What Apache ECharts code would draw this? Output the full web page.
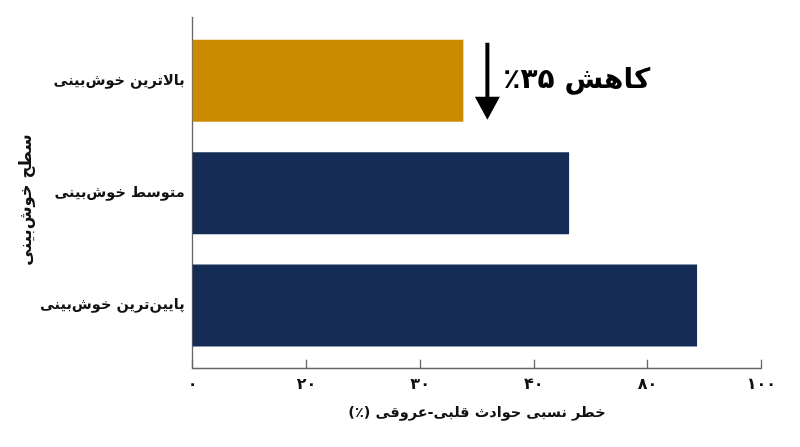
<!DOCTYPE html>
<html>
<head>
<meta charset="utf-8">
<script src="https://cdn.jsdelivr.net/npm/echarts@6/dist/echarts.min.js"></script>
<style>
html,body{margin:0;padding:0;background:#fff;}
#c{width:800px;height:447px;}
</style>
</head>
<body>
<div id="c" dir="rtl"></div>
<script>
const categories = ['بالاترین خوش‌بینی', 'متوسط خوش‌بینی', 'پایین‌ترین خوش‌بینی'];
const riskValues = [47.6, 66.2, 88.7];
const barColors = ['#cc8a00', '#142c56', '#142c56'];
const tickLabels = ['۰', '۲۰', '۳۰', '۴۰', '۸۰', '۱۰۰'];
const xTitle = 'خطر نسبی حوادث قلبی-عروقی (٪)';
const yTitle = 'سطح خوش‌بینی';
const annotationText = 'کاهش ۳۵٪';
const annotationX = [52];

const FONT = "'DejaVu Sans', sans-serif";
const chart = echarts.init(document.getElementById('c'), null, {renderer: 'canvas'});

const L = 192.7, R = 38.7;
const option = {
  backgroundColor: '#ffffff',
  animation: false,
  grid: [
    {left: L, right: R, top: 17.3, bottom: 78.3, outerBoundsMode: 'none', containLabel: false},
    {left: L, right: R, top: 24.6, bottom: 85.3, outerBoundsMode: 'none', containLabel: false}
  ],
  xAxis: [
    {
      type: 'value', gridIndex: 0, min: 0, max: 100, interval: 20,
      axisLine: {show: true, lineStyle: {color: '#666', width: 1.3}},
      axisTick: {show: true, inside: true, length: 9, lineStyle: {color: '#666', width: 1.3}},
      splitLine: {show: false},
      axisLabel: {
        margin: 8, color: '#111', fontSize: 16, fontWeight: 'bold', fontFamily: FONT,
        formatter: v => tickLabels[Math.round(v / 20)]
      },
      name: xTitle, nameLocation: 'middle', nameGap: 37,
      nameTextStyle: {color: '#111', fontSize: 14.5, fontWeight: 'bold', fontFamily: FONT}
    },
    {
      type: 'value', gridIndex: 1, min: 0, max: 100, interval: 20, show: false
    }
  ],
  yAxis: [
    {
      type: 'value', gridIndex: 0, min: 0, max: 1,
      axisLine: {show: true, lineStyle: {color: '#666', width: 1.3}},
      axisTick: {show: false}, axisLabel: {show: false}, splitLine: {show: false},
      name: yTitle, nameLocation: 'middle', nameRotate: 90, nameGap: 157,
      nameTextStyle: {color: '#111', fontSize: 16.5, fontWeight: 'bold', fontFamily: FONT, padding: [0, 14, 0, 0]}
    },
    {
      type: 'category', gridIndex: 1, data: categories, inverse: true,
      axisLine: {show: false}, axisTick: {show: false}, splitLine: {show: false},
      axisLabel: {margin: 8, color: '#111', fontSize: 14.5, fontWeight: 'bold', fontFamily: FONT}
    }
  ],
  series: [{
    type: 'bar', xAxisIndex: 1, yAxisIndex: 1,
    barCategoryGap: '27%',
    data: riskValues.map((v, i) => ({value: v, itemStyle: {color: barColors[i]}}))
  }]
};
chart.setOption(option);

// annotation arrow placed via axis scales
const p = chart.convertToPixel({xAxisIndex: 1, yAxisIndex: 1}, [annotationX[0], categories[0]]);
const ax = p[0] - 1, cy = p[1];
chart.setOption({
  graphic: [
    {type: 'line', shape: {x1: ax, y1: cy - 38, x2: ax, y2: cy + 20}, style: {stroke: '#000', lineWidth: 4}, silent: true},
    {type: 'polygon', shape: {points: [[ax - 12.5, cy + 16], [ax + 12.5, cy + 16], [ax, cy + 39]]}, style: {fill: '#000'}, silent: true},
    {type: 'text', x: ax + 16, y: cy, style: {text: annotationText, fill: '#000', font: "bold 28px " + FONT, align: 'left', verticalAlign: 'middle'}, silent: true}
  ]
});
</script>
</body>
</html>
